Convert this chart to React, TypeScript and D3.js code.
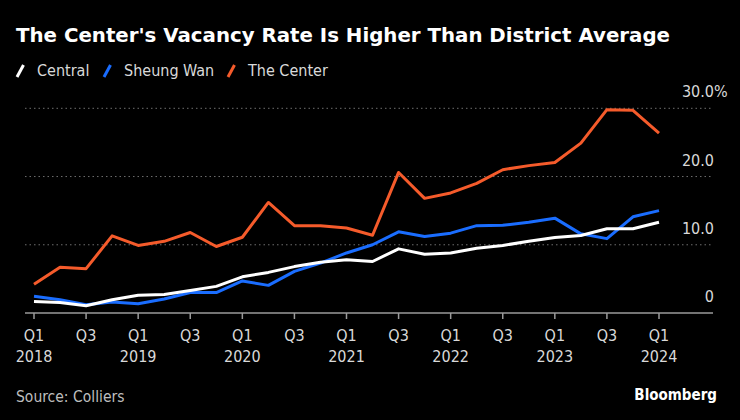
import * as d3 from "d3";

const quarters = d3.range(25).map((i) => `Q${(i % 4) + 1} ${2018 + Math.floor(i / 4)}`);
const central = [1.7, 1.55, 1.07, 1.95, 2.6, 2.7, 3.3, 3.9, 5.3, 5.95, 6.8, 7.45, 7.8, 7.55, 9.4, 8.6, 8.8, 9.5, 9.9, 10.5, 11.05, 11.35, 12.35, 12.35, 13.3];
const sheungWan = [2.45, 1.95, 1.2, 1.6, 1.35, 2.05, 3.0, 3.0, 4.7, 4.05, 6.1, 7.3, 8.8, 10.0, 11.9, 11.2, 11.7, 12.8, 12.85, 13.3, 13.9, 11.6, 10.9, 14.1, 15.0];
const theCenter = [4.2, 6.7, 6.5, 11.3, 9.9, 10.5, 11.8, 9.75, 11.1, 16.2, 12.8, 12.8, 12.45, 11.4, 20.6, 16.8, 17.6, 19.0, 21.0, 21.6, 22.05, 24.9, 29.8, 29.7, 26.35];
const yTicks = [0, 10, 20, 30];

const FONT = "'DejaVu Sans Condensed', 'DejaVu Sans', sans-serif";
const TEXT = "#d9d9d9";
const GRID = "#6e6e6e";

const series = [
  { name: "Sheung Wan", values: sheungWan, color: "#1a6dff" },
  { name: "Central", values: central, color: "#ffffff" },
  { name: "The Center", values: theCenter, color: "#f55b2b" },
];
const legend = [
  { name: "Central", color: "#ffffff", x: 16 },
  { name: "Sheung Wan", color: "#1a6dff", x: 103 },
  { name: "The Center", color: "#f55b2b", x: 227 },
];

export default function App() {
  const W = 740;
  const H = 420;
  const x = d3.scaleLinear().domain([0, quarters.length - 1]).range([34, 659]);
  const y = d3.scaleLinear().domain([0, 30]).range([313, 108.3]);
  const line = d3.line<number>().x((_, i) => x(i)).y((d) => y(d));
  const tickIdx = d3.range(0, quarters.length, 2);

  return (
    <svg width={W} height={H} style={{ position: "absolute", left: 0, top: 0, background: "#000" }} fontFamily={FONT}>
      <rect width={W} height={H} fill="#000" />
      <text x={16} y={42} fill="#fff" fontSize={19.8} fontWeight="bold" fontFamily="'DejaVu Sans', sans-serif">
        The Center's Vacancy Rate Is Higher Than District Average
      </text>

      {legend.map((l) => (
        <g key={l.name}>
          <line x1={l.x + 1} y1={77} x2={l.x + 7.5} y2={65} stroke={l.color} strokeWidth={3} />
          <text x={l.x + 21} y={76} fill={TEXT} fontSize={16}>{l.name}</text>
        </g>
      ))}

      {yTicks.filter((t) => t > 0).map((t) => (
        <line key={t} x1={25} x2={713} y1={y(t)} y2={y(t)} stroke={GRID} strokeWidth={1} strokeDasharray="1.5 3" />
      ))}
      {yTicks.map((t) => (
        <g key={"l" + t}>
          <text x={714} y={y(t) - 11} fill={TEXT} fontSize={16} textAnchor="end">
            {t === 0 ? "0" : t.toFixed(1)}
          </text>
          {t === 30 && (
            <text x={714} y={y(t) - 11} fill={TEXT} fontSize={16}>%</text>
          )}
        </g>
      ))}

      <line x1={25} x2={713} y1={y(0)} y2={y(0)} stroke="#9a9a9a" strokeWidth={1.5} />
      {tickIdx.map((i) => {
        const [q, yr] = quarters[i].split(" ");
        return (
          <g key={i} transform={`translate(${x(i)},0)`}>
            <line y1={y(0)} y2={y(0) + 6} stroke="#9a9a9a" strokeWidth={1.5} />
            <text y={341} fill={TEXT} fontSize={16} textAnchor="middle">{q}</text>
            {q === "Q1" && (
              <text y={362} fill={TEXT} fontSize={16} textAnchor="middle">{yr}</text>
            )}
          </g>
        );
      })}

      {series.map((s) => (
        <path key={s.name} d={line(s.values) ?? ""} fill="none" stroke={s.color} strokeWidth={3} strokeLinejoin="round" />
      ))}

      <text x={16} y={402} fill="#bdbdbd" fontSize={15.5}>Source: Colliers</text>
      <text x={717} y={400} fill="#fff" fontSize={15} fontWeight="bold" textAnchor="end">Bloomberg</text>
    </svg>
  );
}
